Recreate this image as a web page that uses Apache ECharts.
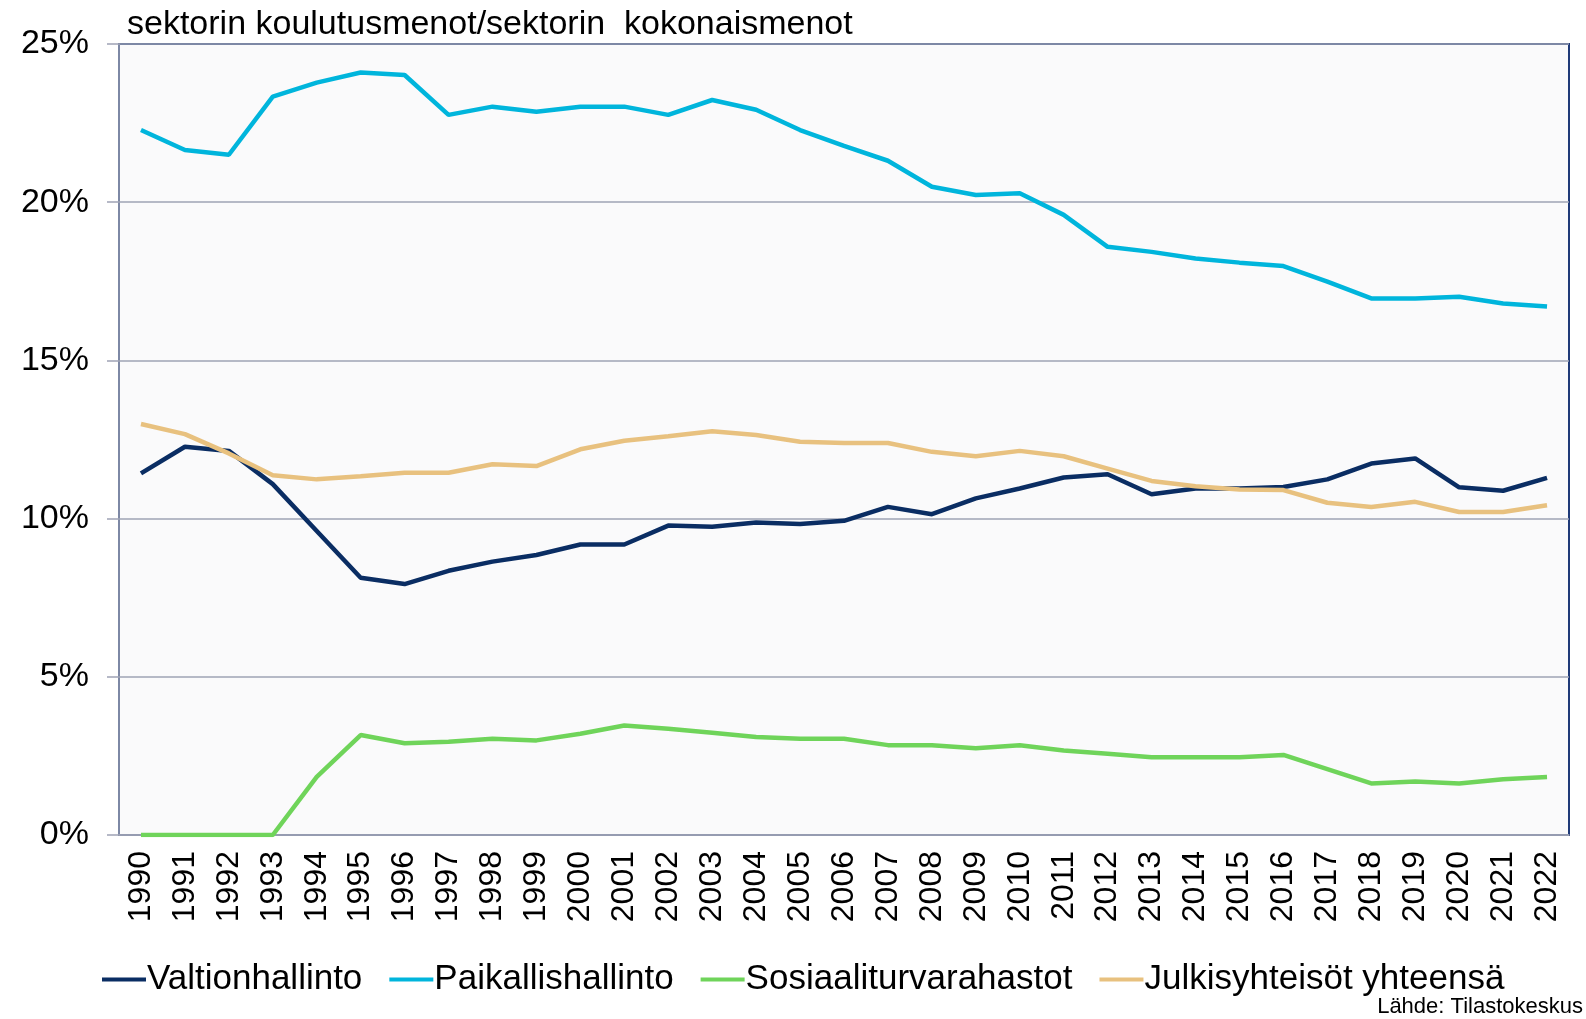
<!DOCTYPE html>
<html>
<head>
<meta charset="utf-8">
<script src="https://cdn.jsdelivr.net/npm/echarts@6/dist/echarts.min.js"></script>
<style>
  html, body { margin: 0; padding: 0; background: #fff; }
  #chart { width: 1586px; height: 1019px; }
</style>
</head>
<body>
<div id="chart"></div>
<script>
// koulutusmenojen osuus sektorin kokonaismenoista, %
var years = ['1990','1991','1992','1993','1994','1995','1996','1997','1998','1999',
             '2000','2001','2002','2003','2004','2005','2006','2007','2008','2009',
             '2010','2011','2012','2013','2014','2015','2016','2017','2018','2019',
             '2020','2021','2022'];

var valtionhallinto = [11.43, 12.27, 12.14, 11.09, 9.61, 8.13, 7.93, 8.35, 8.64, 8.85,
                       9.18, 9.18, 9.78, 9.74, 9.88, 9.83, 9.93, 10.37, 10.14, 10.64,
                       10.95, 11.3, 11.4, 10.77, 10.95, 10.95, 11.0, 11.24, 11.74, 11.9,
                       10.99, 10.88, 11.29];

var paikallishallinto = [22.28, 21.65, 21.5, 23.34, 23.78, 24.1, 24.02, 22.76, 23.02, 22.86,
                         23.02, 23.02, 22.76, 23.23, 22.92, 22.28, 21.78, 21.31, 20.49, 20.23,
                         20.28, 19.6, 18.59, 18.43, 18.22, 18.09, 17.98, 17.49, 16.96, 16.96,
                         17.01, 16.8, 16.7];

var sosiaaliturvarahastot = [0, 0, 0, 0, 1.84, 3.16, 2.9, 2.95, 3.04, 2.99,
                             3.2, 3.46, 3.36, 3.23, 3.1, 3.04, 3.04, 2.84, 2.84, 2.74,
                             2.84, 2.67, 2.57, 2.46, 2.46, 2.46, 2.53, 2.08, 1.63, 1.69,
                             1.63, 1.76, 1.83];

var julkisyhteisot = [12.99, 12.67, 12.06, 11.37, 11.24, 11.34, 11.45, 11.45, 11.72, 11.66,
                      12.19, 12.46, 12.6, 12.76, 12.64, 12.43, 12.39, 12.39, 12.11, 11.97,
                      12.14, 11.97, 11.58, 11.19, 11.02, 10.92, 10.9, 10.5, 10.37, 10.53,
                      10.21, 10.21, 10.42];

var seriesNames = ['Valtionhallinto', 'Paikallishallinto', 'Sosiaaliturvarahastot', 'Julkisyhteisöt yhteensä'];
var colors = ['#0a2d63', '#00b5dc', '#6fd45a', '#e8c17f'];

var font = '"Liberation Sans", Arial, sans-serif';
var gridColor = '#9ea3b5';

var myChart = echarts.init(document.getElementById('chart'));

function lineSeries(name, data, color) {
    return {
        name: name,
        type: 'line',
        data: data,
        symbol: 'none',
        smooth: false,
        lineStyle: { color: color, width: 4.5 },
        itemStyle: { color: color },
        animation: false
    };
}

var option = {
    backgroundColor: '#ffffff',
    color: colors,
    textStyle: { fontFamily: font },
    title: {
        text: 'sektorin koulutusmenot/sektorin  kokonaismenot',
        left: 122,
        top: 3,
        textStyle: { fontFamily: font, fontSize: 34, fontWeight: 'normal', color: '#000' }
    },
    legend: {
        data: seriesNames,
        left: 102,
        top: 962,
        padding: 0,
        itemWidth: 44,
        itemHeight: 4,
        itemGap: 27,
        icon: 'rect',
        textStyle: { fontFamily: font, fontSize: 35, color: '#000', padding: [0, 0, 0, -4] }
    },
    grid: {
        left: 119,
        right: 17,
        top: 44,
        bottom: 184,
        show: true,
        backgroundColor: '#fafafb',
        borderColor: '#1f3a78',
        borderWidth: 2
    },
    xAxis: {
        type: 'category',
        data: years,
        boundaryGap: true,
        axisLine: { lineStyle: { color: gridColor, width: 1.5 } },
        axisTick: { alignWithLabel: false, interval: 0, length: 12, lineStyle: { color: gridColor, width: 1.5 } },
        axisLabel: {
            interval: 0,
            rotate: 90,
            margin: 16,
            fontFamily: font,
            fontSize: 32,
            color: '#000'
        }
    },
    yAxis: {
        type: 'value',
        min: 0,
        max: 25,
        interval: 5,
        axisLine: { show: true, lineStyle: { color: gridColor, width: 1.5 } },
        axisTick: { show: true, length: 12, lineStyle: { color: gridColor, width: 1.5 } },
        axisLabel: {
            formatter: '{value}%',
            margin: 30,
            fontFamily: font,
            fontSize: 34,
            color: '#000'
        },
        splitLine: { lineStyle: { color: gridColor, width: 1.5 } }
    },
    graphic: [{
        type: 'text',
        right: 3,
        bottom: 1,
        style: {
            text: 'Lähde: Tilastokeskus',
            font: '22px ' + font,
            fill: '#000'
        }
    }],
    series: [
        lineSeries(seriesNames[0], valtionhallinto, colors[0]),
        lineSeries(seriesNames[1], paikallishallinto, colors[1]),
        lineSeries(seriesNames[2], sosiaaliturvarahastot, colors[2]),
        lineSeries(seriesNames[3], julkisyhteisot, colors[3])
    ]
};

myChart.setOption(option);
</script>
</body>
</html>
